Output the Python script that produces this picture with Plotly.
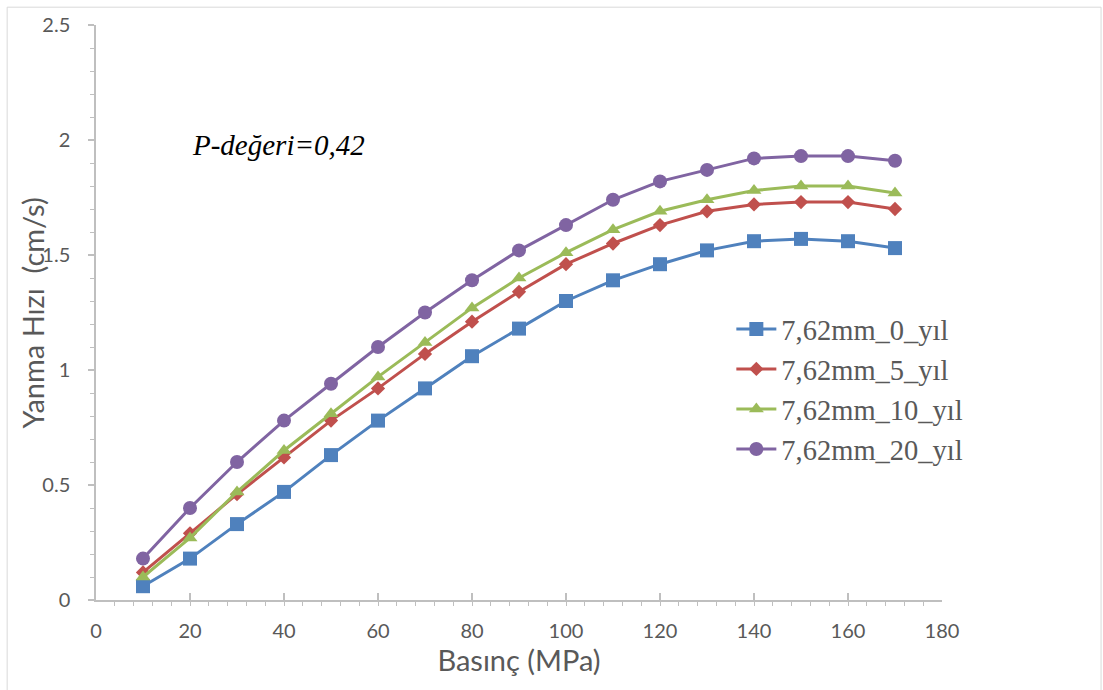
import plotly.graph_objects as go

# Pressure (MPa) and burning rate (cm/s) for the 7.62 mm propellant at four ages
basinc = [10, 20, 30, 40, 50, 60, 70, 80, 90, 100, 110, 120, 130, 140, 150, 160, 170]
yil_0 = [0.06, 0.18, 0.33, 0.47, 0.63, 0.78, 0.92, 1.06, 1.18, 1.30, 1.39, 1.46, 1.52, 1.56, 1.57, 1.56, 1.53]
yil_5 = [0.12, 0.29, 0.46, 0.62, 0.78, 0.92, 1.07, 1.21, 1.34, 1.46, 1.55, 1.63, 1.69, 1.72, 1.73, 1.73, 1.70]
yil_10 = [0.10, 0.27, 0.47, 0.65, 0.81, 0.97, 1.12, 1.27, 1.40, 1.51, 1.61, 1.69, 1.74, 1.78, 1.80, 1.80, 1.77]
yil_20 = [0.18, 0.40, 0.60, 0.78, 0.94, 1.10, 1.25, 1.39, 1.52, 1.63, 1.74, 1.82, 1.87, 1.92, 1.93, 1.93, 1.91]

series_names = ["7,62mm_0_yıl", "7,62mm_5_yıl", "7,62mm_10_yıl", "7,62mm_20_yıl"]
x_ticks = [0, 20, 40, 60, 80, 100, 120, 140, 160, 180]
y_ticks = [0, 0.5, 1, 1.5, 2, 2.5]
y_tick_text = ["0", "0.5", "1", "1.5", "2", "2.5"]

styles = [
    ("#4F81BD", "square", 14),
    ("#C0504D", "diamond", 11),
    ("#9BBB59", "triangle-up", 13),
    ("#8064A2", "circle", 14),
]

fig = go.Figure()
for name, values, (color, symbol, size) in zip(series_names, [yil_0, yil_5, yil_10, yil_20], styles):
    fig.add_trace(go.Scatter(
        x=basinc, y=values, name=name, mode="lines+markers",
        line=dict(color=color, width=3),
        marker=dict(color=color, symbol=symbol, size=size, line=dict(width=0)),
    ))

axis_gray = "#BFBFBF"
label_gray = "#595959"
sans = "Lato, Open Sans, sans-serif"
serif = "Liberation Serif, Times New Roman, serif"
tick_font = dict(family=sans, size=20, color=label_gray)

fig.update_layout(
    width=1103, height=690,
    margin=dict(l=96, r=161, t=22, b=90),
    paper_bgcolor="white", plot_bgcolor="white",
    showlegend=True,
    legend=dict(
        x=0.751, y=0.515, xanchor="left", yanchor="top",
        font=dict(family=serif, size=28.5, color=label_gray),
        bgcolor="rgba(0,0,0,0)", tracegroupgap=0, itemwidth=40,
    ),
    xaxis=dict(
        range=[0, 180], tickvals=x_ticks, showgrid=False, zeroline=False,
        showline=True, linecolor=axis_gray, linewidth=1.5,
        ticks="inside", ticklen=7, tickcolor=axis_gray, tickwidth=1.5,
        minor=dict(dtick=4, ticks="outside", ticklen=4, tickcolor=axis_gray, tickwidth=1.2),
        tickfont=tick_font, ticklabelstandoff=12,
        title=dict(text="Basınç (MPa)", standoff=6,
                   font=dict(family=sans, size=29, color=label_gray)),
    ),
    yaxis=dict(
        range=[0, 2.5], tickvals=y_ticks, ticktext=y_tick_text, showgrid=False, zeroline=False,
        showline=True, linecolor=axis_gray, linewidth=1.5,
        ticks="outside", ticklen=6, tickcolor=axis_gray, tickwidth=1.5,
        minor=dict(dtick=0.1, ticks="outside", ticklen=4, tickcolor=axis_gray, tickwidth=1.2),
        tickfont=tick_font, ticklabelstandoff=14,
    ),
    annotations=[
        dict(
            x=20, y=1.98, xref="x", yref="y", xanchor="left", yanchor="middle",
            text="<i>P-değeri=0,42</i>", showarrow=False,
            font=dict(family=serif, size=29, color="black"),
        ),
        # y-axis title, set close to the tick labels
        dict(
            x=-0.0745, y=0.5, xref="paper", yref="paper", xanchor="center", yanchor="middle",
            text="Yanma Hızı\u00a0 (cm/s)", textangle=-90, showarrow=False,
            font=dict(family=sans, size=29, color=label_gray),
        ),
    ],
    shapes=[dict(
        type="rect", xref="paper", yref="paper",
        x0=-0.105, x1=1.188, y0=-0.17, y1=1.031,
        line=dict(color="#D9D9D9", width=1), fillcolor="rgba(0,0,0,0)", layer="below",
    )],
)

fig.write_html("out.html")
